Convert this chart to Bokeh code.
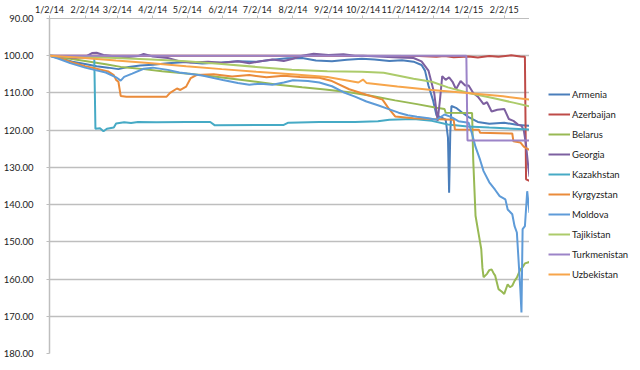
import pandas as pd
from bokeh.plotting import figure
from bokeh.layouts import row
from bokeh.models import (Range1d, FixedTicker, LinearAxis, DatetimeAxis, Legend, LegendItem,
                          NumeralTickFormatter)
from bokeh.embed import file_html
from bokeh.resources import INLINE

countries = ["Armenia", "Azerbaijan", "Belarus", "Georgia", "Kazakhstan",
             "Kyrgyzstan", "Moldova", "Tajikistan", "Turkmenistan", "Uzbekistan"]
colors = ["#4A7EBB", "#BE4B48", "#98B954", "#7D60A0", "#46AAC5",
          "#EA8B3A", "#5E9BD8", "#ACCB6A", "#9C84C8", "#F7A54A"]

tick_dates = ["2014-01-02", "2014-02-02", "2014-03-02", "2014-04-02", "2014-05-02", "2014-06-02",
              "2014-07-02", "2014-08-02", "2014-09-02", "2014-10-02", "2014-11-02", "2014-12-02",
              "2015-01-02", "2015-02-02"]
tick_labels = ["1/2/14", "2/2/14", "3/2/14", "4/2/14", "5/2/14", "6/2/14", "7/2/14", "8/2/14",
               "9/2/14", "10/2/14", "11/2/14", "12/2/14", "1/2/15", "2/2/15"]
y_ticks = [90, 100, 110, 120, 130, 140, 150, 160, 170, 180]

armenia_dates = ["2014-01-02", "2014-01-08", "2014-01-15", "2014-01-22", "2014-02-02", "2014-02-12",
                 "2014-02-22", "2014-03-03", "2014-03-12", "2014-03-22", "2014-04-02", "2014-04-15",
                 "2014-05-01", "2014-05-15", "2014-06-01", "2014-06-15", "2014-07-01", "2014-07-15",
                 "2014-07-28", "2014-08-10", "2014-08-22", "2014-09-05", "2014-09-18", "2014-10-01",
                 "2014-10-12", "2014-10-25", "2014-11-05", "2014-11-15", "2014-11-22", "2014-11-25",
                 "2014-11-28", "2014-12-02", "2014-12-05", "2014-12-09", "2014-12-13", "2014-12-15",
                 "2014-12-16", "2014-12-17", "2014-12-18", "2014-12-22", "2014-12-27", "2015-01-02",
                 "2015-01-10", "2015-01-20", "2015-02-02", "2015-02-14", "2015-02-24"]
armenia_vals = [100.0, 100.4, 101.0, 101.6, 102.2, 102.8, 103.2, 103.6, 103.0, 102.6, 102.4, 102.0,
                101.7, 102.1, 101.8, 101.5, 101.6, 101.1, 100.7, 100.6, 101.3, 101.5, 101.1, 100.8,
                101.0, 101.4, 101.2, 101.6, 102.5, 104.0, 108.0, 112.0, 116.0, 116.6, 117.2, 122.0,
                136.8, 121.0, 113.5, 114.0, 115.2, 116.5, 117.8, 118.3, 118.0, 118.6, 118.8]

azerbaijan_dates = ["2014-01-02", "2014-06-01", "2014-11-20", "2014-12-05", "2014-12-12", "2014-12-20",
                    "2015-01-02", "2015-01-10", "2015-01-20", "2015-01-28", "2015-02-08", "2015-02-16",
                    "2015-02-20", "2015-02-21", "2015-02-24"]
azerbaijan_vals = [100.0, 100.0, 100.1, 100.3, 100.1, 100.4, 100.2, 100.5, 100.1, 100.3, 99.9, 100.2,
                   100.3, 133.2, 133.6]

belarus_dates = ["2014-01-02", "2014-01-20", "2014-02-02", "2014-02-20", "2014-03-05", "2014-03-25",
                 "2014-04-10", "2014-05-01", "2014-05-20", "2014-06-10", "2014-07-01", "2014-07-20",
                 "2014-08-10", "2014-08-30", "2014-09-20", "2014-10-10", "2014-10-30", "2014-11-18",
                 "2014-12-05", "2014-12-12", "2014-12-13", "2015-01-05", "2015-01-06", "2015-01-08",
                 "2015-01-11", "2015-01-13", "2015-01-14", "2015-01-15", "2015-01-18", "2015-01-20",
                 "2015-01-22", "2015-01-24", "2015-01-25", "2015-01-28", "2015-01-31", "2015-02-02",
                 "2015-02-05", "2015-02-07", "2015-02-09", "2015-02-11", "2015-02-13", "2015-02-16",
                 "2015-02-18", "2015-02-20", "2015-02-24"]
belarus_vals = [100.0, 100.8, 101.4, 102.3, 103.0, 103.6, 104.2, 104.8, 105.4, 106.2, 107.0, 107.8,
                108.5, 109.1, 109.8, 110.8, 112.0, 113.0, 114.0, 114.3, 115.3, 115.4, 128.0, 143.0,
                148.4, 152.0, 157.0, 159.5, 158.6, 157.6, 157.4, 158.6, 159.0, 162.7, 163.4, 164.0,
                161.4, 162.2, 161.8, 160.5, 159.6, 157.4, 156.8, 155.8, 155.4]

georgia_dates = ["2014-01-02", "2014-01-15", "2014-01-25", "2014-02-02", "2014-02-08", "2014-02-12",
                 "2014-02-18", "2014-03-01", "2014-03-10", "2014-03-20", "2014-03-25", "2014-04-02",
                 "2014-04-15", "2014-04-25", "2014-05-05", "2014-05-20", "2014-06-02", "2014-06-15",
                 "2014-06-25", "2014-07-05", "2014-07-15", "2014-07-25", "2014-08-02", "2014-08-10",
                 "2014-08-20", "2014-09-02", "2014-09-15", "2014-09-25", "2014-10-02", "2014-10-15",
                 "2014-11-02", "2014-11-15", "2014-11-22", "2014-11-28", "2014-12-03", "2014-12-06",
                 "2014-12-08", "2014-12-10", "2014-12-13", "2014-12-16", "2014-12-19", "2014-12-22",
                 "2014-12-26", "2014-12-30", "2015-01-02", "2015-01-06", "2015-01-10", "2015-01-15",
                 "2015-01-18", "2015-01-22", "2015-01-27", "2015-02-02", "2015-02-06", "2015-02-10",
                 "2015-02-14", "2015-02-17", "2015-02-19", "2015-02-21", "2015-02-23", "2015-02-24"]
georgia_vals = [100.0, 100.3, 100.6, 100.3, 99.3, 99.2, 99.8, 100.2, 100.4, 100.1, 99.5, 100.2,
                100.6, 101.5, 101.8, 101.6, 101.9, 101.5, 102.0, 101.5, 101.0, 101.4, 100.8, 100.0,
                99.5, 99.8, 99.6, 100.0, 100.0, 100.2, 100.5, 100.6, 101.5, 104.0, 110.0, 117.5,
                112.0, 105.5, 106.5, 105.8, 107.0, 109.0, 106.8, 108.0, 108.0, 110.0, 111.0, 113.0,
                112.5, 115.0, 114.5, 114.3, 117.0, 117.5, 118.5, 118.8, 120.0, 124.0, 130.0, 132.5]

kazakhstan_dates = ["2014-01-02", "2014-01-20", "2014-02-05", "2014-02-10", "2014-02-11", "2014-02-15",
                    "2014-02-18", "2014-02-21", "2014-02-27", "2014-03-01", "2014-03-08", "2014-03-14",
                    "2014-03-20", "2014-04-05", "2014-05-01", "2014-05-22", "2014-05-26", "2014-07-25",
                    "2014-07-29", "2014-08-25", "2014-09-25", "2014-10-15", "2014-10-25", "2014-11-15",
                    "2014-12-01", "2014-12-15", "2015-01-01", "2015-01-20", "2015-02-10", "2015-02-24"]
kazakhstan_vals = [100.0, 100.3, 100.6, 100.6, 119.6, 119.5, 120.3, 119.6, 119.3, 118.2, 117.9, 118.1,
                   117.8, 117.9, 117.8, 117.8, 118.7, 118.6, 118.0, 117.8, 117.8, 117.6, 117.2, 117.0,
                   117.5, 118.5, 119.0, 119.3, 119.6, 119.8]

kyrgyzstan_dates = ["2014-01-02", "2014-01-12", "2014-01-22", "2014-02-02", "2014-02-12", "2014-02-22",
                    "2014-02-27", "2014-03-01", "2014-03-03", "2014-03-05", "2014-03-10", "2014-04-14",
                    "2014-04-17", "2014-04-23", "2014-04-26", "2014-05-01", "2014-05-05", "2014-05-10",
                    "2014-05-25", "2014-06-10", "2014-06-25", "2014-07-10", "2014-07-25", "2014-08-08",
                    "2014-08-25", "2014-09-05", "2014-09-20", "2014-10-05", "2014-10-19", "2014-10-24",
                    "2014-10-30", "2014-11-15", "2014-12-01", "2014-12-20", "2014-12-21", "2015-01-11",
                    "2015-01-12", "2015-02-09", "2015-02-10", "2015-02-16", "2015-02-19", "2015-02-21",
                    "2015-02-24"]
kyrgyzstan_vals = [100.0, 100.8, 101.8, 102.8, 103.5, 104.2, 105.2, 106.5, 107.0, 110.8, 111.0, 111.0,
                   110.0, 108.8, 109.2, 108.3, 106.0, 105.2, 105.0, 105.6, 105.2, 105.8, 105.4, 105.7,
                   105.9, 106.8, 109.0, 110.5, 111.8, 114.0, 116.3, 116.8, 117.0, 117.2, 119.8, 119.9,
                   120.7, 120.9, 123.0, 123.3, 124.4, 124.8, 125.3]

moldova_dates = ["2014-01-02", "2014-01-10", "2014-01-20", "2014-02-02", "2014-02-10", "2014-02-20",
                 "2014-03-01", "2014-03-05", "2014-03-08", "2014-03-15", "2014-03-25", "2014-04-02",
                 "2014-04-15", "2014-04-25", "2014-05-02", "2014-05-15", "2014-05-25", "2014-06-02",
                 "2014-06-15", "2014-06-25", "2014-07-05", "2014-07-15", "2014-07-25", "2014-08-02",
                 "2014-08-15", "2014-08-25", "2014-09-05", "2014-09-15", "2014-09-25", "2014-10-05",
                 "2014-10-15", "2014-10-25", "2014-11-02", "2014-11-10", "2014-11-18", "2014-11-28",
                 "2014-12-05", "2014-12-12", "2014-12-18", "2014-12-24", "2015-01-02", "2015-01-05",
                 "2015-01-08", "2015-01-12", "2015-01-15", "2015-01-20", "2015-01-25", "2015-01-29",
                 "2015-02-03", "2015-02-05", "2015-02-09", "2015-02-11", "2015-02-13", "2015-02-16",
                 "2015-02-17", "2015-02-18", "2015-02-20", "2015-02-22", "2015-02-24"]
moldova_vals = [100.0, 100.8, 102.0, 103.2, 103.8, 104.5, 105.8, 106.7, 105.7, 104.8, 103.5, 103.2,
                103.8, 104.5, 104.8, 105.3, 106.0, 106.5, 107.3, 107.8, 107.5, 107.8, 107.2, 106.6,
                106.8, 107.2, 108.2, 109.8, 111.0, 112.3, 113.3, 114.4, 115.3, 116.0, 116.4, 116.8,
                117.2, 115.8, 116.5, 117.6, 118.0, 121.0, 124.5, 128.0, 131.0, 134.0, 136.0, 137.7,
                138.6, 141.3, 142.6, 145.8, 147.5, 162.7, 169.0, 146.6, 145.8, 136.4, 142.2]

tajikistan_dates = ["2014-01-02", "2014-02-01", "2014-03-01", "2014-04-01", "2014-05-01", "2014-06-01",
                    "2014-07-01", "2014-08-01", "2014-09-01", "2014-10-01", "2014-10-20", "2014-11-01",
                    "2014-11-15", "2014-12-01", "2014-12-15", "2015-01-02", "2015-01-25", "2015-02-10",
                    "2015-02-24"]
tajikistan_vals = [100.0, 100.3, 100.6, 101.0, 101.5, 102.2, 103.0, 103.8, 104.2, 104.3, 104.6, 105.3,
                   106.2, 107.0, 108.5, 110.0, 111.5, 112.6, 113.6]

turkmenistan_dates = ["2014-01-02", "2014-12-31", "2015-01-01", "2015-02-24"]
turkmenistan_vals = [100.0, 100.0, 122.8, 122.8]

uzbekistan_dates = ["2014-01-02", "2014-02-01", "2014-03-01", "2014-04-01", "2014-05-01", "2014-06-01",
                    "2014-07-01", "2014-08-01", "2014-09-01", "2014-09-28", "2014-10-02", "2014-10-05",
                    "2014-11-01", "2014-12-01", "2015-01-01", "2015-02-01", "2015-02-24"]
uzbekistan_vals = [100.0, 100.6, 101.3, 102.0, 102.8, 103.6, 104.3, 105.0, 105.7, 107.2, 106.4, 107.3,
                   108.3, 109.2, 110.0, 110.9, 111.8]

series_dates = [armenia_dates, azerbaijan_dates, belarus_dates, georgia_dates, kazakhstan_dates,
                kyrgyzstan_dates, moldova_dates, tajikistan_dates, turkmenistan_dates, uzbekistan_dates]
series_vals = [armenia_vals, azerbaijan_vals, belarus_vals, georgia_vals, kazakhstan_vals,
               kyrgyzstan_vals, moldova_vals, tajikistan_vals, turkmenistan_vals, uzbekistan_vals]

FONT = "Lato"
GRID = "#BEBEBE"
NAN = float("nan")


def ms(d):
    return pd.Timestamp(d).value // 10**6


p = figure(frame_width=480, frame_height=335, output_backend="svg", toolbar_location=None,
           x_axis_type=None, y_axis_location=None,
           x_range=Range1d(float(ms("2014-01-02")), float(ms("2015-02-24"))),
           y_range=Range1d(180, 90),
           min_border_left=0, min_border_right=0, min_border_top=11, min_border_bottom=8)
p.outline_line_color = None
p.background_fill_color = "white"
p.border_fill_color = "white"

tick_ms = [int(ms(d)) for d in tick_dates]
xaxis = DatetimeAxis(ticker=FixedTicker(ticks=tick_ms))
xaxis.major_label_overrides = {t: lab for t, lab in zip(tick_ms, tick_labels)}
xaxis.axis_line_color = GRID
xaxis.major_tick_line_color = GRID
xaxis.major_tick_out = 3
xaxis.major_tick_in = 0
xaxis.minor_tick_line_color = None
xaxis.major_label_standoff = 1
xaxis.major_label_text_font = FONT
xaxis.major_label_text_font_size = "9px"
xaxis.major_label_text_color = "#222222"
p.add_layout(xaxis, "above")

yaxis = LinearAxis(ticker=FixedTicker(ticks=y_ticks), formatter=NumeralTickFormatter(format="0.00"))
yaxis.axis_line_color = GRID
yaxis.axis_line_width = 1.5
yaxis.major_tick_line_color = GRID
yaxis.major_tick_out = 3
yaxis.major_tick_in = 0
yaxis.minor_tick_line_color = None
yaxis.major_label_standoff = 13
yaxis.major_label_text_font = FONT
yaxis.major_label_text_font_size = "9.5px"
yaxis.major_label_text_color = "#222222"
p.add_layout(yaxis, "left")

p.ygrid.ticker = FixedTicker(ticks=y_ticks)
p.ygrid.grid_line_color = GRID
p.ygrid.grid_line_width = 1.3
p.xgrid.grid_line_color = None

for col, ds, vs in zip(colors, series_dates, series_vals):
    xs = [ms(d) for d in ds]
    p.line(xs, vs, line_color=col, line_width=2)

# separate legend panel to the right of the chart
lg = figure(width=100, height=354, output_backend="svg", toolbar_location=None,
            x_axis_location=None, y_axis_location=None,
            x_range=Range1d(0, 1), y_range=Range1d(0, 1),
            min_border_left=0, min_border_right=0, min_border_top=0, min_border_bottom=0)
lg.outline_line_color = None
lg.xgrid.grid_line_color = None
lg.ygrid.grid_line_color = None

items = []
for name, col in zip(countries, colors):
    r = lg.line(x=[NAN], y=[NAN], line_color=col, line_width=2)
    items.append(LegendItem(label=name, renderers=[r]))

legend = Legend(items=items, location=(19, 66))
legend.label_text_font = FONT
legend.label_text_font_size = "9.5px"
legend.label_text_color = "#222222"
legend.glyph_width = 22
legend.glyph_height = 12
legend.label_height = 12
legend.label_standoff = 2
legend.spacing = 8
legend.padding = 0
legend.margin = 0
legend.border_line_color = None
legend.background_fill_alpha = 0
lg.add_layout(legend, "center")

layout = row(p, lg)
open("out.html", "w").write(file_html(layout, INLINE))
